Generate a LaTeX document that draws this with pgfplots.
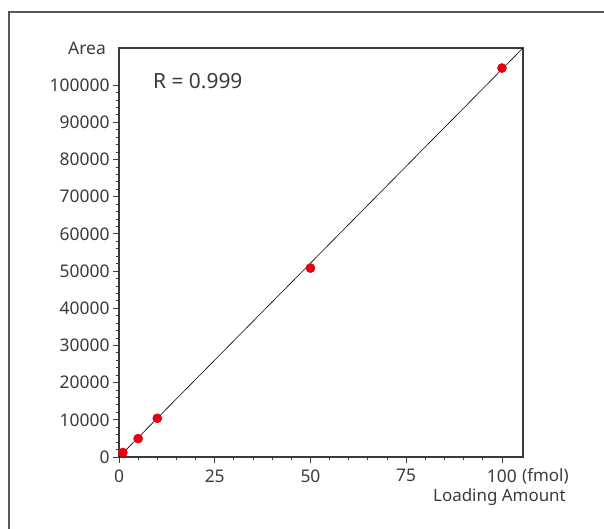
\documentclass[border=0pt]{standalone}
\usepackage{pgfplots}
\pgfplotsset{compat=1.18}
\usepackage{fontspec}
\setmainfont{Noto Sans}
\definecolor{axgray}{HTML}{3E3A39}
\definecolor{dotred}{HTML}{E60012}

\begin{document}
\begin{tikzpicture}[x=1bp,y=1bp]
\path[use as bounding box] (0,0) rectangle (604,529);
\draw[axgray!85, line width=1.4bp] (9,0) -- (9,517) -- (604,517);
\begin{axis}[
    at={(119bp,72bp)}, anchor=south west, scale only axis,
    width=404bp, height=409bp,
    xmin=0, xmax=105.5, ymin=0, ymax=110000,
    tick pos=left, tick align=outside,
    major tick length=6bp, minor tick length=3.5bp,
    xtick={0,25,50,75,100}, minor x tick num=4,
    ytick={0,10000,...,100000}, minor y tick num=4,
    axis line style={axgray, line width=1.2bp},
    tick style={axgray, line width=0.9bp},
    scaled y ticks=false,
    yticklabel style={/pgf/number format/fixed, /pgf/number format/1000 sep={}},
    xticklabel style={yshift=-3bp},
    /pgf/number format/assume math mode=true,
    tick label style={font=\fontsize{17.5}{20}\selectfont, text=axgray},
    clip=false,
]
% fitted line
\addplot[black, line width=0.6bp] coordinates {(0,0) (105.5,110000)};
% measured points
\addplot[only marks, mark=*, mark size=4.6bp, dotred, mark options={draw=none}]
    coordinates {(1,1200) (5,4950) (10,10400) (50,50800) (100,104600)};

\node[anchor=west, inner sep=0pt, text=axgray, font=\fontsize{21}{24}\selectfont]
    at (rel axis cs:0.084,0.919) {R = 0.999};
\node[anchor=base east, inner sep=0pt, text=axgray, font=\fontsize{17.5}{20}\selectfont]
    at ([xshift=-13bp,yshift=-7bp]rel axis cs:0,1) {Area};
\node[anchor=base west, inner sep=0pt, text=axgray, font=\fontsize{17}{20}\selectfont]
    at ([xshift=-1bp,yshift=-25bp]rel axis cs:1,0) {(fmol)};
\node[anchor=base east, inner sep=0pt, text=axgray, font=\fontsize{17}{20}\selectfont]
    at ([xshift=43bp,yshift=-45bp]rel axis cs:1,0) {Loading Amount};
\end{axis}
\end{tikzpicture}
\end{document}
